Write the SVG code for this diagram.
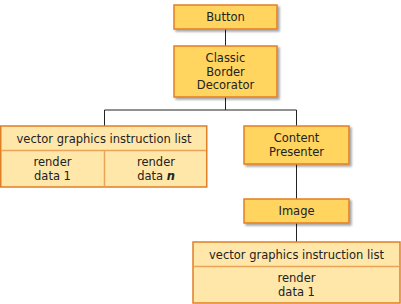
<svg xmlns="http://www.w3.org/2000/svg" width="401" height="304" viewBox="0 0 401 304">
<defs>
<filter id="sh" x="-10%" y="-10%" width="130%" height="140%">
<feGaussianBlur in="SourceAlpha" stdDeviation="1.2"/>
<feOffset dx="2" dy="2" result="b"/>
<feComponentTransfer><feFuncA type="linear" slope="0.35"/></feComponentTransfer>
<feMerge><feMergeNode/><feMergeNode in="SourceGraphic"/></feMerge>
</filter>
</defs>
<style>
.node{fill:#FFD45F;stroke:#E57E22;stroke-width:1.5;filter:url(#sh)}
.list{fill:#FFE7AA;stroke:#E07F26;stroke-width:1.5}
.div{stroke:#E9A45A;stroke-width:1.5;fill:none}
.conn{stroke:#222;stroke-width:1;fill:none}
text{font-family:"DejaVu Sans",Verdana,sans-serif;font-size:11.5px;fill:#222;text-anchor:middle}
</style>
<g id="connectors">
<path class="conn" d="M225.5 29V46M225.5 97V110M104.5 126V110H296.5V126M296.5 164V199M296.5 223V242"/>
</g>
<g id="button">
<rect class="node" x="174" y="5" width="103" height="24"/>
<text x="225.5" y="21">Button</text>
</g>
<g id="classic-border-decorator">
<rect class="node" x="174" y="46" width="103" height="51"/>
<text x="225.5" y="62">Classic</text>
<text x="225.5" y="75.5">Border</text>
<text x="225.5" y="89">Decorator</text>
</g>
<g id="left-list">
<rect class="list" x="0.75" y="126" width="206" height="61"/>
<path class="div" d="M1.5 150.5H206M104.5 151V186.5"/>
<text x="104" y="143">vector graphics instruction list</text>
<text x="52.5" y="166">render</text>
<text x="52.5" y="180">data 1</text>
<text x="156" y="166">render</text>
<text x="156" y="180">data <tspan font-weight="bold" font-style="italic">n</tspan></text>
</g>
<g id="content-presenter">
<rect class="node" x="244" y="126" width="105" height="38"/>
<text x="296.5" y="142">Content</text>
<text x="296.5" y="156">Presenter</text>
</g>
<g id="image">
<rect class="node" x="244" y="199" width="105" height="24"/>
<text x="296.5" y="215">Image</text>
</g>
<g id="bottom-list">
<rect class="list" x="193" y="242" width="207" height="61"/>
<path class="div" d="M193.5 266.5H399.5"/>
<text x="296.5" y="258.5">vector graphics instruction list</text>
<text x="296.5" y="282">render</text>
<text x="296.5" y="296">data 1</text>
</g>
</svg>
